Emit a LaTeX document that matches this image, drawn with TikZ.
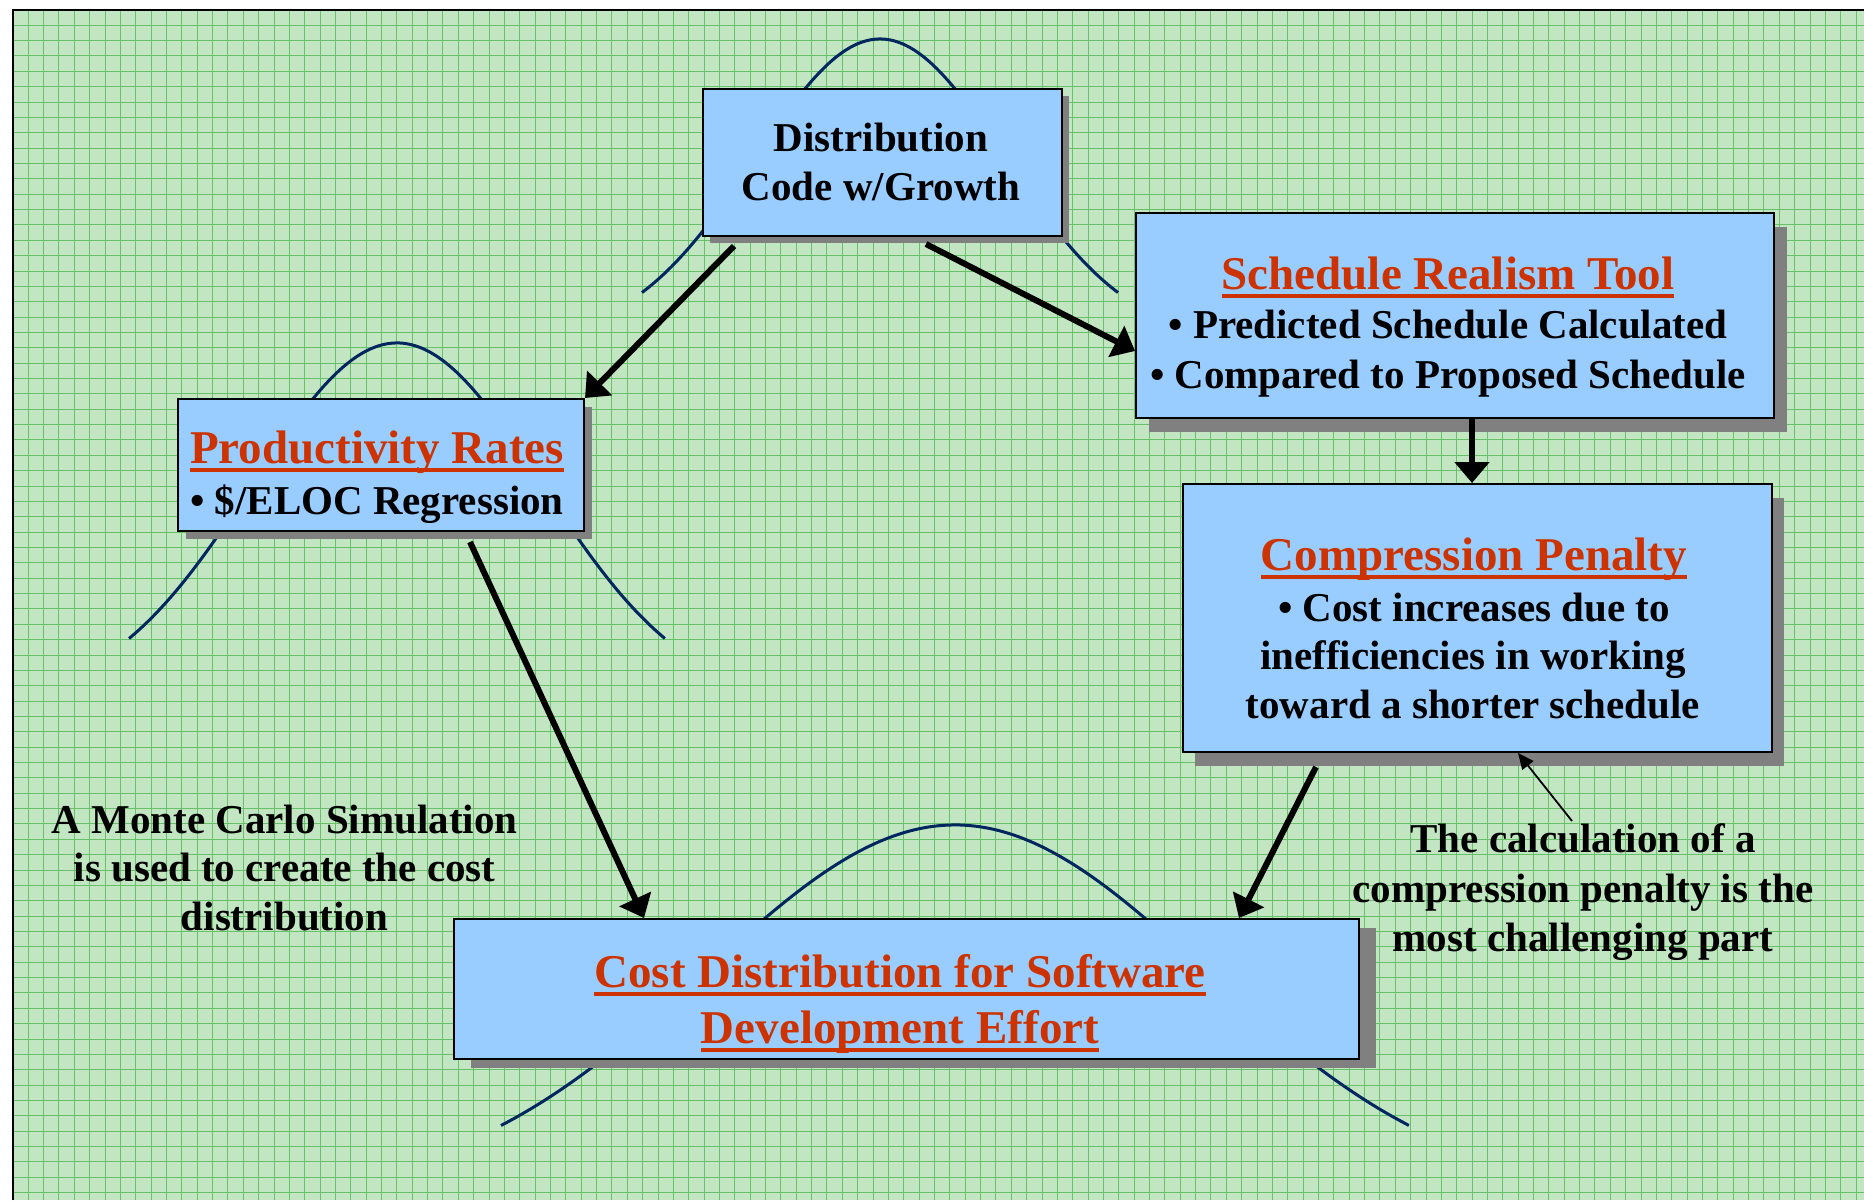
\documentclass[tikz,border=0pt]{standalone}
\usepackage{fontspec}
\setmainfont{Liberation Serif}
\usetikzlibrary{arrows.meta,shadows}
\definecolor{bggreen}{RGB}{194,229,194}
\definecolor{gridgreen}{RGB}{104,192,104}
\definecolor{boxblue}{RGB}{153,204,255}
\definecolor{titlered}{RGB}{204,51,0}
\definecolor{curveblue}{RGB}{0,38,96}
\definecolor{shadowgray}{RGB}{128,128,128}
\newcommand\redul[1]{\setbox0\hbox{#1}\rlap{\rule[-9pt]{\wd0}{4pt}}\box0}
\tikzset{
  box/.style={draw=black, line width=2pt, fill=boxblue, rectangle, inner sep=0pt},
  shad/.style 2 args={drop shadow={shadow xshift=#1pt, shadow yshift=-#2pt, fill=shadowgray, opacity=1}},
  txt/.style={inner sep=0pt, anchor=base, font=\fontsize{41}{49}\selectfont\bfseries},
  ttl/.style={inner sep=0pt, anchor=base, text=titlered, font=\fontsize{47}{56}\selectfont\bfseries},
  bell/.style={draw=curveblue, line width=3pt, line join=round},
  thick arrow/.style={line width=6pt, -{Triangle[length=21pt,width=34pt]}},
  thin arrow/.style={line width=1.8pt, -{Triangle[length=16pt,width=14pt]}},
  gridline/.style={draw=gridgreen, line width=1pt}
}
\begin{document}
\begin{tikzpicture}[x=1pt,y=-1pt]
\useasboundingbox (0,0) rectangle (1864,1200);
\fill[white] (0,0) rectangle (1864,1200);
\fill[bggreen] (12.9,9.9) rectangle (1864,1200);
\foreach \i in {1,...,120} \draw[gridline] ({12.9+\i*15.36},9.9) -- ({12.9+\i*15.36},1200);
\foreach \j in {1,...,78} \draw[gridline] (12.9,{9.9+\j*15.36}) -- (1864,{9.9+\j*15.36});
\draw[line width=2.5pt] (12.9,1200) -- (12.9,9.9) -- (1864,9.9);

% bell curves
\draw[bell] plot[domain=-1.904:1.904, samples=90, smooth] ({880+125*\x}, {39+303*(1-exp(-0.5*\x*\x))});
\draw[bell] plot[domain=-1.848:1.848, samples=90, smooth] ({397+145*\x}, {343+361*(1-exp(-0.5*\x*\x))});
\draw[bell] plot[domain=-1.816:1.816, samples=90, smooth] ({955+250*\x}, {825+372*(1-exp(-0.5*\x*\x))});

% boxes
\node[box, shad={7}{7}, minimum width=359pt, minimum height=147pt] (b1) at (882.5,162.5) {};
\node[box, shad={8}{8}, minimum width=406pt, minimum height=132pt] (b2) at (381,465) {};
\node[box, shad={13}{14}, minimum width=638pt, minimum height=205pt] (b3) at (1455,315.5) {};
\node[box, shad={12}{14}, minimum width=589pt, minimum height=268pt] (b4) at (1477.5,618) {};
\node[box, shad={17}{9}, minimum width=905pt, minimum height=140pt] (b5) at (906.5,989) {};

% texts
\node[txt] (t1a) at (881,151) {Distribution};
\node[txt] (t1b) at (881,200) {Code w/Growth};
\node[ttl] (t2a) at (377,463) {\redul{Productivity Rates}};
\node[txt] (t2b) at (377,514) {• \$/ELOC Regression};
\node[ttl] (t3a) at (1448,289) {\redul{Schedule Realism Tool}};
\node[txt] (t3b) at (1448,338) {• Predicted Schedule Calculated};
\node[txt] (t3c) at (1448,388) {• Compared to Proposed Schedule};
\node[ttl] (t4a) at (1474,570) {\redul{Compression Penalty}};
\node[txt] (t4b) at (1474,621) {• Cost increases due to};
\node[txt] (t4c) at (1473,669) {inefficiencies in working};
\node[txt] (t4d) at (1473,718) {toward a shorter schedule};
\node[ttl] (t5a) at (900,987) {\redul{Cost Distribution for Software}};
\node[ttl] (t5b) at (900,1043) {\redul{Development Effort}};
\node[txt] (m1) at (284.5,833) {A Monte Carlo Simulation};
\node[txt] (m2) at (284.5,881) {is used to create the cost};
\node[txt] (m3) at (284.5,930) {distribution};
\node[txt] (n1) at (1583,852) {The calculation of a};
\node[txt] (n2) at (1583,902) {compression penalty is the};
\node[txt] (n3) at (1583,951) {most challenging part};
\coordinate (nstart) at (1572,821);

% connectors
\draw[thick arrow] ([xshift=32pt,yshift=-9pt]b1.south west) -- (b2.north east);
\draw[thick arrow] ([xshift=224pt,yshift=-7pt]b1.south west) -- ([yshift=-139pt]b3.north west);
\draw[thick arrow] ([xshift=17pt]b3.south) -- ([xshift=-5.5pt]b4.north);
\draw[thick arrow] ([xshift=293pt,yshift=-10pt]b2.south west) -- ([xshift=191pt]b5.north west);
\draw[thick arrow] ([xshift=134pt,yshift=-14pt]b4.south west) -- ([xshift=786pt]b5.north west);
\draw[thin arrow] (nstart) -- ([xshift=336pt]b4.south west);
\end{tikzpicture}
\end{document}
